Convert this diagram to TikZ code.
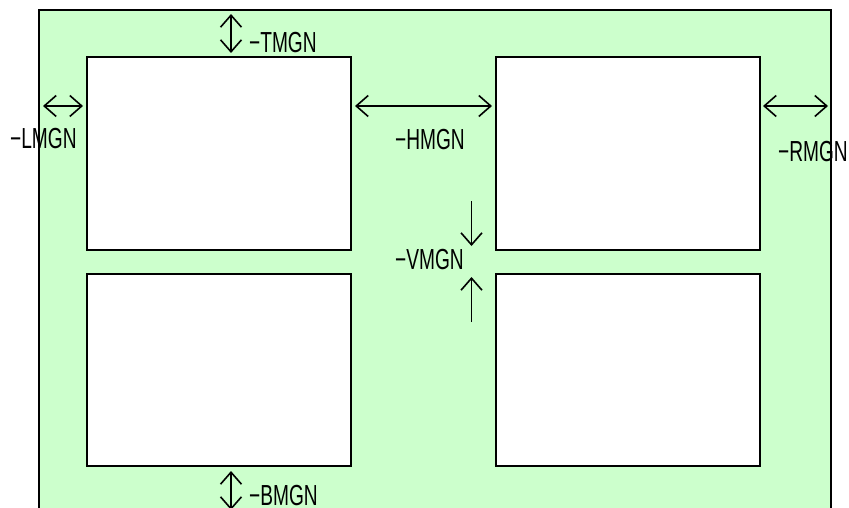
\documentclass[tikz,border=0pt]{standalone}
\usepackage{fontspec}
\setmainfont{Liberation Sans}
\usetikzlibrary{arrows.meta}
\definecolor{pg}{HTML}{CCFFCC}
\tikzset{
  panel/.style={draw=black,line width=2pt,fill=white},
  gap/.style={line width=1.6pt,arrows={Straight Barb[length=12pt,width=21pt]-Straight Barb[length=12pt,width=21pt]}},
  onearrow/.style={line width=1.6pt,-{Straight Barb[length=12pt,width=21pt]}},
  lbl/.style={anchor=west,inner sep=0pt,font=\fontsize{29}{31}\selectfont,xscale=0.66}
}
\begin{document}
\begin{tikzpicture}[x=1pt,y=-1pt]
\useasboundingbox (0,0) rectangle (849,508);
\begin{scope}
\clip (0,0) rectangle (849,508);
\draw[fill=pg,line width=2pt] (38.5,10) rectangle (830.5,530);
\end{scope}
\draw[panel] (87,57.5) rectangle (351,249.5);
\draw[panel] (495.5,57.5) rectangle (759.5,249.5);
\draw[panel] (87,273.5) rectangle (351,465.5);
\draw[panel] (495.5,273.5) rectangle (759.5,465.5);
% coordinates
\coordinate (t1) at (231,14);  \coordinate (t2) at (231,53);
\coordinate (l1) at (43,106);  \coordinate (l2) at (83,106);
\coordinate (h1) at (355,106); \coordinate (h2) at (492,106);
\coordinate (r1) at (763,106); \coordinate (r2) at (828,106);
\coordinate (v1) at (471.5,201); \coordinate (v2) at (471.5,246);
\coordinate (v3) at (471.5,322); \coordinate (v4) at (471.5,277);
\coordinate (b1) at (231,471); \coordinate (b2) at (231,510);
\draw[gap] (t1) -- (t2);
\draw[gap] (l1) -- (l2);
\draw[gap] (h1) -- (h2);
\draw[gap] (r1) -- (r2);
\draw[onearrow] (v1) -- (v2);
\draw[onearrow] (v3) -- (v4);
\draw[gap] (b1) -- (b2);
\node[lbl] (tm) at (249,43) {−TMGN};
\node[lbl] (lm) at (10,139) {−LMGN};
\node[lbl] (hm) at (395,140) {−HMGN};
\node[lbl] (vm) at (395,260) {−VMGN};
\node[lbl] (rm) at (778,152) {−RMGN};
\node[lbl] (bm) at (249,496) {−BMGN};
\end{tikzpicture}
\end{document}
